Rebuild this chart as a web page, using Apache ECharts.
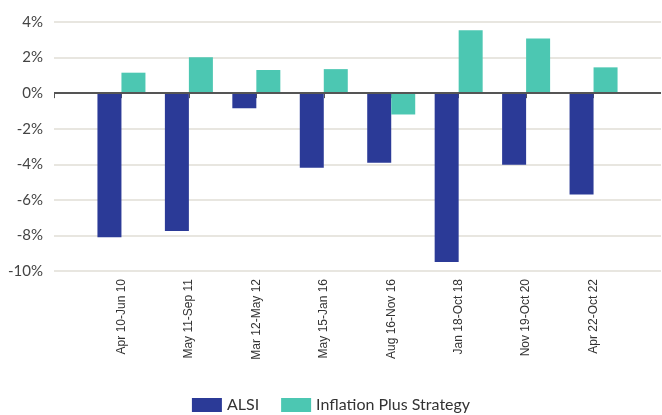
<!DOCTYPE html>
<html>
<head>
    <meta charset="utf-8">
    <title>ALSI vs Inflation Plus Strategy</title>
    <script src="https://cdn.jsdelivr.net/npm/echarts@6/dist/echarts.min.js"></script>
    <style>
        html, body { margin: 0; padding: 0; background: #fff; }
        #chart { width: 662px; height: 415px; }
    </style>
</head>
<body>
<div id="chart"></div>
<script>
    // periods (empty slots at both ends keep the first/last bars off the axis edges)
    var periods = ['', 'Apr 10-Jun 10', 'May 11-Sep 11', 'Mar 12-May 12', 'May 15-Jan 16',
        'Aug 16-Nov 16', 'Jan 18-Oct 18', 'Nov 19-Oct 20', 'Apr 22-Oct 22', ''];
    var alsi = [null, -8.1, -7.75, -0.85, -4.2, -3.92, -9.5, -4.03, -5.7, null];
    var inflationPlus = [null, 1.15, 2.02, 1.3, 1.35, -1.2, 3.54, 3.07, 1.45, null];
    var yTicks = { min: -10, max: 4, step: 2 };

    var myChart = echarts.init(document.getElementById('chart'));
    var option = {
        animation: false,
        grid: { left: 54, right: 1, top: 22, bottom: 144, containLabel: false },
        legend: {
            bottom: -3,
            left: 'center',
            itemWidth: 30,
            itemHeight: 14,
            itemGap: 22,
            icon: 'rect',
            textStyle: { fontFamily: 'Lato', fontSize: 16, color: '#333' },
            data: ['ALSI', 'Inflation Plus Strategy']
        },
        xAxis: {
            type: 'category',
            data: periods,
            boundaryGap: false,
            axisLine: { show: false },
            axisTick: {
                show: true,
                length: 5,
                interval: function (idx) { return idx < periods.length - 1; },
                lineStyle: { color: '#555' }
            },
            axisLabel: {
                rotate: 90,
                interval: 0,
                margin: 8,
                fontFamily: 'Liberation Sans',
                fontSize: 12,
                color: '#333'
            },
            splitLine: { show: false }
        },
        yAxis: {
            type: 'value',
            min: yTicks.min,
            max: yTicks.max,
            interval: yTicks.step,
            axisLine: { show: false },
            axisTick: { show: false },
            axisLabel: {
                formatter: '{value}%',
                fontFamily: 'Lato',
                fontSize: 15,
                color: '#444',
                margin: 11
            },
            splitLine: { lineStyle: { color: '#e8e6e0', width: 2 } }
        },
        series: [
            {
                name: 'ALSI',
                type: 'bar',
                data: alsi,
                barWidth: 24,
                barGap: '0%',
                itemStyle: { color: '#2b3a97' },
                markLine: {
                    silent: true,
                    symbol: 'none',
                    label: { show: false },
                    lineStyle: { color: '#555', width: 2, type: 'solid' },
                    data: [{ yAxis: 0 }]
                }
            },
            {
                name: 'Inflation Plus Strategy',
                type: 'bar',
                data: inflationPlus,
                barWidth: 24,
                itemStyle: { color: '#4cc7b2' }
            }
        ]
    };
    myChart.setOption(option);
</script>
</body>
</html>
